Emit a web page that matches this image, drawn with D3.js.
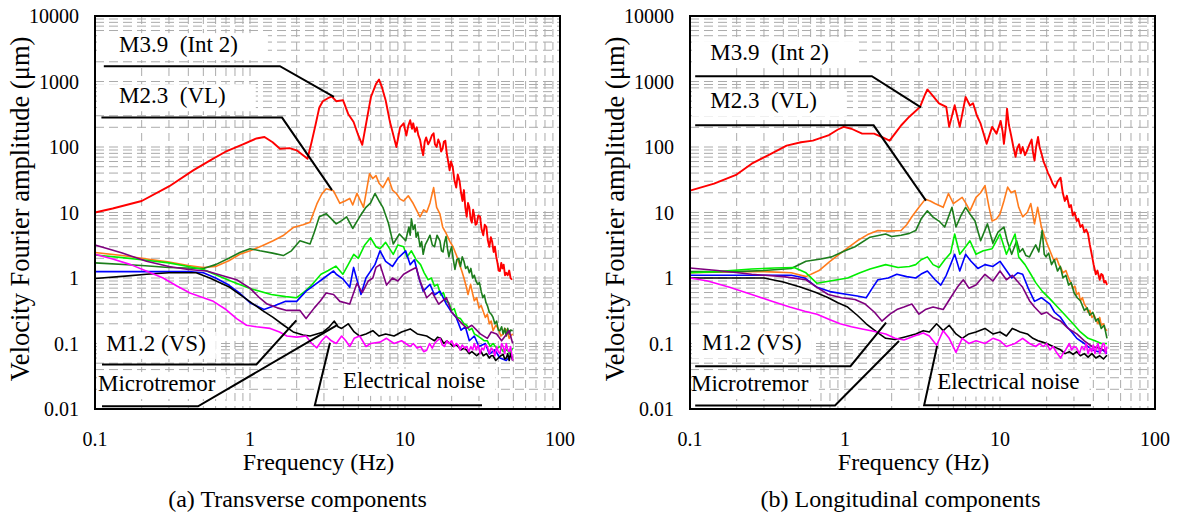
<!DOCTYPE html>
<html>
<head>
<meta charset="utf-8">
<script src="https://cdn.jsdelivr.net/npm/d3@7"></script>
<style>
  body { margin: 0; background: #fff; }
</style>
</head>
<body>
<svg id="chart" width="1179" height="517" font-family="'Liberation Serif', 'DejaVu Serif', serif"></svg>
<script>
// tick labels
const xTicks = [0.1, 1, 10, 100]
const yTicks = [0.01, 0.1, 1, 10, 100, 1000, 10000]

// series colours, in drawing order
const seriesNames = ["red", "orange", "darkgreen", "lime", "blue", "purple", "black", "magenta"]
const seriesColors = ["#ff0000", "#ff7b1c", "#1c7d1c", "#00ee00", "#0000ff", "#7f007f", "#000000", "#ff00ff"]

// (a) Transverse components : [frequency Hz, amplitude um]
const transRed = [[0.1,10],[0.13,11.5],[0.2,15],[0.3,25],[0.43,44],[0.55,62],[0.69,84],[0.9,110],[1.1,135],[1.24,142],[1.4,118],[1.56,94],[1.8,96],[2.0,89],[2.2,75],[2.35,66],[2.5,120],[2.65,220],[2.8,400],[2.95,500],[3.2,560],[3.37,590],[3.6,500],[3.98,520],[4.3,320],[4.66,241],[5.0,150],[5.3,108],[5.7,280],[6.03,580],[6.5,920],[6.8,1070],[7.1,820],[7.5,518],[8.0,240],[8.8,100],[9.3,200],[9.8,230],[10.2,150],[10.5,210],[10.8,256],[11.1,190],[11.3,230],[11.6,170],[11.9,200],[12.2,150],[12.5,130],[12.8,95],[13.1,75],[13.4,120],[13.7,140],[14.1,110],[14.5,125],[14.9,150],[15.3,162],[15.6,110],[16.0,100],[16.4,130],[16.8,112],[17.1,85],[17.5,95],[17.8,120],[18.2,125],[18.6,80],[19.0,60],[19.4,44],[19.8,60],[20.3,50],[20.8,32],[21.4,24],[21.9,38],[22.5,30],[23.0,20],[23.5,15],[24.0,22],[24.5,12],[25,8.6],[25.5,14],[26,12],[26.5,8],[27,7],[27.5,11],[28,9],[28.5,6.5],[29,6.7],[29.7,9],[30.5,8.6],[31.2,5.5],[32,4.5],[32.7,6.5],[33.5,6],[34.2,3.8],[35,3.0],[35.8,4.2],[36.5,3.6],[37.3,2.5],[38,3],[38.8,2.1],[39.5,1.7],[40.2,1.3],[41,1.28],[41.8,1.7],[42.5,1.4],[43.3,1.6],[44.2,1.1],[45,1.2],[46,1.1],[47,1.3],[48,1.0],[49,0.94]]
const transOrange = [[0.1,2.45],[0.15,2.2],[0.2,2.0],[0.3,1.75],[0.4,1.55],[0.5,1.45],[0.6,1.5],[0.73,1.83],[0.86,2.3],[1.0,2.6],[1.2,3.1],[1.41,3.7],[1.65,4.5],[1.9,5.9],[2.2,6.5],[2.44,7.1],[2.7,13.5],[2.9,19],[3.1,23],[3.45,21.5],[3.8,13.8],[4.1,15],[4.4,16.4],[4.6,13],[4.9,19.6],[5.4,12],[5.9,39],[6.2,33],[6.5,36.6],[6.8,28],[7.2,24],[7.8,34],[8.3,22],[8.8,19.5],[9.3,16],[9.8,15],[10.5,18],[11.3,13.7],[12.5,8.6],[13.2,11],[13.8,10.1],[14.5,14],[15.3,24],[16,12],[16.8,9.5],[17.5,6],[18.5,4.7],[19.5,3.6],[20.4,3.0],[21.5,2.2],[22.5,1.6],[23.2,1.3],[24,1.0],[24.8,0.75],[25.5,0.56],[26.5,0.8],[27.2,0.6],[28,0.45],[29,0.5],[30,0.35],[31,0.38],[33,0.25],[34,0.28],[35,0.2],[36,0.22],[37,0.157],[38.5,0.19],[40,0.17],[41.5,0.13],[43,0.14],[44,0.17],[45.5,0.157],[47,0.12],[48,0.13],[49.5,0.14]]
const transDarkGreen = [[0.1,1.7],[0.2,1.55],[0.3,1.45],[0.5,1.4],[0.6,1.6],[0.73,2.0],[0.86,2.45],[1.0,2.8],[1.16,2.6],[1.4,2.4],[1.64,2.2],[1.85,2.6],[2.1,3.7],[2.44,3.3],[2.6,5],[2.8,8.6],[3.1,9.6],[3.35,8],[3.6,6.7],[3.9,7.5],[4.2,8.6],[4.6,5.7],[5.1,8.6],[5.6,12],[6.0,14],[6.4,19.5],[6.8,15],[7.2,12],[7.8,7],[8.4,3.3],[9.2,4.7],[10.1,3.7],[10.4,5],[10.6,6],[10.8,4.5],[11,8.0],[11.3,5.5],[11.6,6.5],[11.8,4.2],[12.1,5],[12.5,3],[12.8,3.6],[13.1,2.3],[13.5,3.2],[14,3.8],[14.5,4.5],[15,3.2],[15.5,3],[16.1,4.5],[16.8,3.7],[17.2,2.6],[17.6,2.5],[18,3.5],[18.4,4.3],[18.8,2.8],[19.2,2.1],[19.6,2.6],[20,3.0],[20.5,1.9],[21,1.35],[21.6,1.9],[22.2,2.0],[22.8,1.5],[23.4,2.1],[24,1.8],[24.6,1.4],[25.3,1.5],[26,1.2],[26.6,1.4],[27.3,1.0],[28,1.1],[28.7,0.9],[29.5,0.8],[30.2,0.85],[31,0.63],[31.8,0.5],[32.5,0.55],[33.3,0.42],[34,0.38],[35,0.3],[36,0.28],[37,0.25],[38,0.2],[39,0.22],[40,0.16],[41,0.157],[42,0.18],[43,0.14],[44,0.17],[45,0.13],[46,0.17],[47,0.14],[48,0.16],[49.5,0.157]]
const transLime = [[0.1,2.25],[0.15,2.05],[0.2,1.9],[0.3,1.7],[0.4,1.5],[0.5,1.35],[0.59,1.14],[0.75,0.9],[1.0,0.69],[1.37,0.56],[1.7,0.52],[2.0,0.5],[2.25,0.62],[2.5,0.78],[2.87,1.14],[3.2,1.3],[3.58,1.52],[3.97,1.14],[4.3,1.6],[4.67,2.3],[5.0,2.0],[5.5,3.2],[6.0,4.1],[6.5,3.0],[6.9,2.8],[7.5,3.5],[8.4,2.3],[9.0,3.2],[9.8,3.0],[10.3,2.1],[11.0,2.6],[11.8,1.9],[12.6,1.6],[13.3,1.2],[14.1,0.94],[14.8,1.0],[15.5,0.75],[16.2,0.8],[17,0.55],[17.7,0.6],[18.4,0.44],[19.2,0.42],[20,0.32],[20.8,0.34],[21.7,0.25],[22.8,0.24],[24,0.2],[25,0.19],[26,0.16],[27,0.17],[28,0.14],[29.5,0.13],[31,0.12],[32.5,0.11],[34,0.11],[35.5,0.09],[37,0.1],[39,0.085],[41,0.09],[43,0.075],[45.6,0.08],[47.5,0.07],[49.5,0.085]]
const transBlue = [[0.1,1.25],[0.2,1.25],[0.3,1.25],[0.4,1.25],[0.5,1.2],[0.6,1.0],[0.73,0.78],[0.85,0.6],[1.0,0.42],[1.23,0.33],[1.45,0.38],[1.7,0.44],[2.0,0.44],[2.3,0.63],[2.6,0.78],[3.0,1.0],[3.46,1.28],[3.6,1.14],[3.97,0.97],[4.4,0.72],[4.66,1.45],[5.2,0.56],[5.6,1.0],[6.4,1.6],[6.9,2.6],[7.5,1.8],[8.3,1.5],[9.0,2.0],[10.1,2.6],[10.8,1.6],[11.5,1.9],[12.3,1.0],[13.1,0.63],[14.5,0.8],[15.5,0.55],[16.8,0.63],[18.5,0.4],[20,0.3],[21.4,0.25],[23,0.16],[24.5,0.18],[26,0.11],[28,0.13],[30,0.09],[33,0.1],[35,0.069],[38,0.08],[41,0.06],[45,0.055],[48,0.065],[49.5,0.06]]
const transPurple = [[0.1,3.2],[0.15,2.4],[0.215,1.8],[0.3,1.5],[0.4,1.35],[0.525,1.28],[0.65,1.1],[0.82,0.94],[1.0,0.7],[1.15,0.5],[1.29,0.4],[1.5,0.35],[1.73,0.32],[2.1,0.32],[2.3,0.24],[2.6,0.35],[2.85,0.45],[3.1,0.59],[3.46,0.56],[3.8,0.44],[4.4,0.4],[4.9,0.83],[5.3,0.6],[5.8,0.9],[6.2,1.0],[6.5,1.45],[6.9,1.6],[7.6,0.78],[8.3,1.0],[9.0,0.9],[9.8,1.14],[10.8,1.3],[11.8,1.45],[12.5,0.9],[13.8,0.5],[15,0.6],[16.5,0.4],[18.5,0.5],[20,0.3],[22.5,0.22],[25,0.17],[27,0.19],[30.6,0.14],[34,0.12],[36,0.15],[39,0.14],[42,0.11],[47,0.157],[49.5,0.1]]
const transBlack = [[0.1,0.98],[0.15,1.06],[0.215,1.14],[0.3,1.2],[0.45,1.2],[0.55,1.0],[0.74,0.72],[0.9,0.52],[1.05,0.4],[1.2,0.32],[1.41,0.25],[1.65,0.19],[1.9,0.15],[2.2,0.135],[2.44,0.13],[2.7,0.14],[2.97,0.15],[3.25,0.18],[3.5,0.22],[3.7,0.18],[3.9,0.17],[4.3,0.2],[4.7,0.15],[5.1,0.13],[5.6,0.14],[6.2,0.157],[6.8,0.13],[7.5,0.14],[8.5,0.13],[9.5,0.15],[10.8,0.167],[12,0.14],[13.8,0.13],[14.6,0.12],[15.5,0.11],[16.2,0.125],[17,0.12],[17.8,0.1],[18.6,0.11],[19.5,0.1],[20.5,0.09],[21.3,0.095],[22,0.09],[23,0.08],[24,0.085],[25,0.079],[26,0.07],[27,0.075],[28,0.07],[29,0.065],[30,0.07],[31,0.075],[32,0.065],[33.5,0.07],[35,0.06],[36,0.065],[37,0.065],[38.5,0.055],[40,0.06],[41.5,0.065],[43,0.068],[44,0.058],[45,0.06],[46,0.07],[47,0.055],[48,0.07],[49.5,0.055]]
const transMagenta = [[0.1,2.3],[0.13,1.95],[0.17,1.6],[0.22,1.25],[0.275,1.0],[0.34,0.75],[0.41,0.59],[0.5,0.5],[0.58,0.44],[0.7,0.33],[0.82,0.24],[0.95,0.19],[1.1,0.18],[1.35,0.17],[1.55,0.15],[1.73,0.13],[2.0,0.125],[2.3,0.13],[2.5,0.1],[2.7,0.086],[2.9,0.11],[3.1,0.13],[3.35,0.11],[3.6,0.1],[3.9,0.13],[4.15,0.11],[4.4,0.09],[4.7,0.12],[5.1,0.13],[5.6,0.09],[6.0,0.1],[6.9,0.105],[7.6,0.12],[8.5,0.1],[9.5,0.11],[10.8,0.09],[11.3,0.1],[12,0.085],[12.6,0.09],[13.2,0.075],[13.8,0.079],[14.4,0.1],[15,0.085],[15.5,0.1],[16.1,0.11],[16.8,0.12],[17.4,0.095],[18,0.09],[18.6,0.11],[19.3,0.1],[20,0.11],[20.7,0.09],[21.4,0.1],[22,0.095],[22.7,0.08],[23.4,0.095],[24.2,0.085],[25,0.09],[25.8,0.075],[26.6,0.09],[27.3,0.08],[28,0.1],[28.8,0.08],[29.7,0.095],[30.5,0.07],[31.3,0.085],[32.2,0.08],[33,0.095],[34,0.09],[35,0.07],[36,0.085],[37,0.08],[38,0.065],[39,0.09],[40,0.075],[41,0.07],[42,0.1],[43,0.09],[44,0.07],[45,0.1],[46,0.08],[47,0.075],[48,0.09],[49.5,0.055]]

// (b) Longitudinal components
const longRed = [[0.1,21.6],[0.143,27.6],[0.2,38],[0.25,55.7],[0.33,78],[0.42,105],[0.52,118],[0.62,125],[0.78,150],[0.9,185],[0.98,203],[1.1,190],[1.29,160],[1.54,160],[1.75,140],[1.94,125],[2.1,160],[2.3,213],[2.6,290],[2.8,340],[3.05,410],[3.25,600],[3.4,755],[3.7,600],[4.04,465],[4.5,410],[4.7,203],[5.1,435],[5.5,203],[6.0,580],[6.4,430],[6.7,465],[7.1,300],[7.5,227],[8.2,112],[8.9,203],[9.5,160],[10.1,250],[10.4,170],[10.6,112],[10.9,200],[11.1,385],[11.4,220],[11.8,150],[12.2,100],[12.6,71],[12.9,95],[13.3,110],[13.6,80],[14,100],[14.5,75],[15,90],[15.5,110],[16.0,130],[16.3,85],[16.7,62],[17.1,100],[17.6,142],[18,100],[18.5,80],[19.1,60],[19.8,49],[20.4,40],[21,35],[21.8,28],[22.7,24],[23.6,30],[24.6,34],[25.4,20],[26.2,15],[27,18],[28,12],[28.7,13],[29.5,9],[30.3,10],[31.3,7.4],[32,8],[33,6],[34,6.5],[35,5],[36,5.5],[37,4.7],[38,3.2],[39.2,2.2],[40.2,1.6],[41.5,1.14],[42.5,1.3],[44,0.94],[45,1.15],[46,1.1],[47,0.85],[48,0.9],[49,0.78]]
const longOrange = [[0.1,1.2],[0.2,1.25],[0.3,1.25],[0.45,1.2],[0.56,1.05],[0.68,1.3],[0.8,1.8],[0.98,2.6],[1.2,3.7],[1.4,4.6],[1.63,5.3],[1.9,5.2],[2.3,5.3],[2.5,6.5],[2.7,8.6],[3.0,12],[3.3,16],[3.55,15],[3.8,13.7],[4.3,12],[4.65,19.5],[5.0,13.7],[5.7,17],[6.0,14],[6.4,10.6],[7.0,17],[7.5,20],[8.0,25.8],[8.5,12],[8.9,7.4],[9.5,8],[10,9.5],[10.6,15],[11.2,24.4],[11.8,20],[12.5,21.6],[13.2,12],[14,8.6],[15,10],[15.8,13.7],[16.7,6.7],[17.5,12],[18.5,6],[19.8,3.7],[21,2.6],[22.3,1.83],[23.2,2.0],[24,1.6],[24.8,1.4],[25.5,1.2],[26.6,1.3],[27.7,1.0],[28.6,0.85],[29.5,0.7],[30.4,0.75],[31.3,0.56],[32.2,0.6],[33,0.45],[34,0.5],[35,0.4],[36,0.36],[37,0.3],[38,0.32],[39.2,0.25],[40.5,0.27],[42,0.22],[43,0.2],[44,0.25],[45,0.19],[46.5,0.2],[47.5,0.17],[49,0.157]]
const longDarkGreen = [[0.1,1.25],[0.2,1.25],[0.3,1.3],[0.45,1.4],[0.56,1.8],[0.7,1.95],[0.82,2.1],[1.0,2.6],[1.16,3.0],[1.45,4.2],[1.83,4.7],[2.0,4.3],[2.3,4.5],[2.6,4.8],[2.86,5.3],[3.1,8],[3.4,10.6],[3.7,8.5],[4.04,7.4],[4.4,6.0],[4.9,12],[5.2,6],[5.6,9],[6.0,12],[6.4,9.5],[6.9,7.4],[7.5,3.7],[8.3,6.7],[9.0,3.4],[9.7,5],[10.6,6],[11.2,3.5],[11.9,2.3],[12.4,3],[12.8,3.7],[13.4,2.5],[14,2.8],[14.7,2.2],[15.5,2.1],[16.2,2.6],[17,3.2],[17.8,2.5],[18.7,5.3],[19.3,2.3],[19.8,2.1],[20.6,2.4],[21.5,1.6],[22.4,1.9],[23.5,1.28],[24.5,1.5],[25.5,1.0],[26.6,1.1],[27.7,0.78],[28.8,0.85],[30,0.6],[31.5,0.5],[33,0.45],[35,0.32],[36.5,0.35],[38,0.27],[39.7,0.3],[41.5,0.22],[43,0.24],[45,0.17],[47,0.19],[49,0.12]]
const longLime = [[0.1,1.2],[0.15,1.25],[0.25,1.37],[0.35,1.42],[0.47,1.45],[0.56,1.2],[0.66,0.83],[0.8,0.9],[1.04,1.0],[1.25,1.2],[1.45,1.37],[1.83,1.6],[2.2,1.45],[2.6,1.5],[2.86,1.6],[3.1,1.9],[3.4,2.1],[3.7,1.6],[4.04,1.45],[4.4,1.9],[4.8,2.4],[5.1,4.7],[5.5,2.3],[6.0,3.0],[6.4,3.7],[7.0,2.3],[7.8,2.6],[8.9,2.8],[10,4.7],[11,2.3],[12.5,4.7],[13.2,2.1],[14.5,1.6],[15.8,1.14],[17,0.85],[18.7,0.63],[21,0.48],[23.5,0.36],[26,0.28],[29.6,0.2],[33,0.15],[37,0.12],[41,0.11],[45,0.1],[49,0.1]]
const longBlue = [[0.1,1.1],[0.2,1.1],[0.3,1.1],[0.45,1.1],[0.55,1.0],[0.66,0.72],[0.8,0.62],[1.04,0.56],[1.2,0.53],[1.37,0.5],[1.5,0.7],[1.63,0.94],[1.9,1.0],[2.16,1.14],[2.5,1.05],[2.86,1.0],[3.1,1.15],[3.4,1.28],[3.8,0.95],[4.15,0.78],[4.5,1.1],[4.8,1.6],[5.1,2.3],[5.5,1.28],[6.0,2.3],[6.5,1.8],[7.2,1.4],[8.0,1.6],[9.0,1.5],[10,1.8],[11,1.3],[11.9,1.0],[13,1.2],[14,1.14],[15.2,0.7],[16.7,0.44],[18.5,0.5],[21,0.4],[22.5,0.3],[24.6,0.25],[27,0.18],[29,0.15],[31.3,0.12],[35,0.1],[39.2,0.08],[43,0.075],[46,0.08],[49,0.07]]
const longPurple = [[0.1,1.42],[0.15,1.3],[0.25,1.14],[0.4,1.05],[0.56,0.94],[0.66,0.72],[0.78,0.56],[0.95,0.5],[1.16,0.47],[1.35,0.4],[1.55,0.3],[1.73,0.22],[1.95,0.28],[2.16,0.33],[2.4,0.36],[2.7,0.4],[3.0,0.28],[3.3,0.33],[3.7,0.36],[4.3,0.33],[4.8,0.5],[5.3,0.72],[5.8,0.94],[6.3,0.7],[7.0,0.78],[8.0,1.14],[9.0,0.9],[10,1.28],[11,0.94],[12,1.1],[14,0.72],[15.5,0.45],[16.7,0.36],[18.5,0.28],[20,0.3],[22,0.25],[24.6,0.22],[27.5,0.17],[31.3,0.14],[35,0.11],[39.2,0.09],[44,0.085],[49,0.075]]
const longBlack = [[0.1,1.0],[0.2,1.0],[0.3,1.0],[0.4,0.87],[0.52,0.72],[0.65,0.6],[0.78,0.5],[0.9,0.42],[1.04,0.36],[1.2,0.27],[1.37,0.2],[1.6,0.15],[1.83,0.12],[2.1,0.115],[2.4,0.125],[2.86,0.14],[3.2,0.157],[3.5,0.15],[3.9,0.2],[4.3,0.157],[4.7,0.19],[5.2,0.14],[5.7,0.12],[6.3,0.14],[7.0,0.15],[8.0,0.17],[9.0,0.14],[10,0.15],[11,0.13],[12,0.17],[13.5,0.15],[15,0.14],[16.3,0.12],[17.6,0.11],[18.8,0.105],[20,0.1],[21,0.095],[22,0.09],[23.3,0.085],[24.6,0.08],[26.3,0.07],[28,0.075],[29.6,0.068],[31.3,0.075],[33,0.065],[35,0.07],[37,0.062],[39.2,0.07],[41.5,0.06],[44,0.065],[46.5,0.058],[49,0.066]]
const longMagenta = [[0.1,1.0],[0.13,0.9],[0.18,0.72],[0.25,0.56],[0.33,0.45],[0.44,0.36],[0.55,0.31],[0.66,0.28],[0.8,0.23],[0.93,0.2],[1.1,0.18],[1.29,0.167],[1.5,0.155],[1.83,0.14],[2.1,0.12],[2.4,0.113],[2.8,0.13],[3.2,0.145],[3.5,0.13],[3.9,0.094],[4.3,0.157],[4.7,0.12],[5.2,0.073],[5.7,0.12],[6.3,0.1],[7.0,0.11],[8.0,0.1],[9.0,0.12],[10,0.11],[11,0.09],[12.5,0.1],[14,0.12],[15.5,0.1],[17,0.09],[18,0.1],[19,0.09],[20,0.1],[21,0.08],[22,0.09],[23,0.075],[24.6,0.06],[25.5,0.07],[26.5,0.08],[27.3,0.09],[28,0.1],[29,0.08],[30,0.09],[31.3,0.085],[32.5,0.07],[33.7,0.09],[35,0.08],[36,0.1],[37,0.07],[38,0.085],[39,0.075],[40,0.095],[41,0.07],[42,0.09],[43,0.1],[44,0.07],[45,0.08],[46,0.1],[47,0.1],[48,0.07],[49,0.09]]

// annotation labels: [text, frequency, amplitude] of the text baseline start
const transLabels = [["M3.9\u00a0\u00a0(Int 2)", 0.143, 2810], ["M2.3\u00a0\u00a0(VL)", 0.143, 466], ["M1.2 (VS)", 0.118, 0.077], ["Microtremor", 0.1046, 0.0188], ["Electrical noise", 3.98, 0.021]]
const longLabels = [["M3.9\u00a0\u00a0(Int 2)", 0.135, 2120], ["M2.3\u00a0\u00a0(VL)", 0.135, 390], ["M1.2 (VS)", 0.1195, 0.0785], ["Microtremor", 0.1015, 0.0188], ["Electrical noise", 3.93, 0.0205]]

// leader lines from labels to curves
const transLeaders = [[[0.114,1715],[1.56,1715],[3.48,581]], [[0.11,281],[1.61,281],[3.38,22]], [[0.111,0.048],[1.1,0.048],[1.99,0.226]], [[0.111,0.011],[0.462,0.011],[3.67,0.192]], [[31.4,0.0114],[2.62,0.0114],[3.28,0.103]]]
const longLeaders = [[[0.108,1205],[1.49,1205],[3.09,404]], [[0.108,214],[1.53,214],[3.33,15.2]], [[0.108,0.045],[1.085,0.045],[1.84,0.208]], [[0.108,0.0113],[0.862,0.0113],[2.23,0.109]], [[38.6,0.0114],[3.24,0.0114],[3.93,0.092]]]

const panels = [
    { left: 95, right: 560, captionShift: -30, caption: "(a) Transverse components",
      series: [transRed, transOrange, transDarkGreen, transLime, transBlue, transPurple, transBlack, transMagenta],
      labels: transLabels, leaders: transLeaders },
    { left: 690, right: 1155, captionShift: -22, caption: "(b) Longitudinal components",
      series: [longRed, longOrange, longDarkGreen, longLime, longBlue, longPurple, longBlack, longMagenta],
      labels: longLabels, leaders: longLeaders }
]

const plotTop = 16, plotBottom = 409
const svg = d3.select("#chart")

// every 1..9 step of each decade, for the grid
function logSteps(lo, hi) {
    let out = []
    for (let d = lo; d < hi * 0.999; d *= 10)
        for (let k = 1; k < 10; k++) out.push(d * k)
    out.push(hi)
    return out
}

panels.forEach(p => {
    let x = d3.scaleLog().domain([0.1, 100]).range([p.left, p.right])
    let y = d3.scaleLog().domain([0.01, 10000]).range([plotBottom, plotTop])
    let g = svg.append("g")

    // dashed grid
    g.append("g").selectAll("line").data(logSteps(0.1, 100)).join("line")
        .attr("x1", d => x(d)).attr("x2", d => x(d))
        .attr("y1", plotTop).attr("y2", plotBottom)
        .attr("stroke", "#ababab").attr("stroke-width", 1)
        .attr("stroke-dasharray", "8,5")
    g.append("g").selectAll("line").data(logSteps(0.01, 10000)).join("line")
        .attr("x1", p.left).attr("x2", p.right)
        .attr("y1", d => y(d)).attr("y2", d => y(d))
        .attr("stroke", "#ababab").attr("stroke-width", 1)
        .attr("stroke-dasharray", "9,5")

    // white boxes behind the labels, then spectra and leaders
    let boxG = g.append("g")
    let line = d3.line().x(d => x(d[0])).y(d => y(d[1]))
    p.series.forEach((s, i) => {
        g.append("path")
            .datum(s)
            .attr("fill", "none")
            .attr("stroke", seriesColors[i])
            .attr("stroke-width", i == 0 ? 1.9 : 1.6)
            .attr("stroke-linejoin", "round")
            .attr("d", line)
    })
    p.leaders.forEach(l => {
        g.append("path")
            .datum(l)
            .attr("fill", "none")
            .attr("stroke", "#000")
            .attr("stroke-width", 2)
            .attr("d", line)
    })

    let texts = p.labels.map(l => g.append("text")
        .attr("x", x(l[1])).attr("y", y(l[2]))
        .attr("font-size", 23)
        .text(l[0]))
    texts.forEach((t, i) => {
        let b = t.node().getBBox()
        let x0 = i < 4 ? p.left + 2 : b.x - 5
        boxG.append("rect")
            .attr("x", x0).attr("y", b.y + 1)
            .attr("width", b.x + b.width + (i < 2 ? 30 : 10) - x0)
            .attr("height", b.height + 2)
            .attr("fill", "#fff")
    })

    // frame
    g.append("rect")
        .attr("x", p.left).attr("y", plotTop)
        .attr("width", p.right - p.left).attr("height", plotBottom - plotTop)
        .attr("fill", "none").attr("stroke", "#000").attr("stroke-width", 2)

    // tick labels
    svg.append("g").selectAll("text").data(yTicks).join("text")
        .attr("x", p.left - 16).attr("y", d => y(d)).attr("dy", "0.35em")
        .attr("text-anchor", "end").attr("font-size", 20)
        .text(d => String(d))
    svg.append("g").selectAll("text").data(xTicks).join("text")
        .attr("x", d => x(d)).attr("y", 446)
        .attr("text-anchor", "middle").attr("font-size", 20)
        .text(d => String(d))

    // axis titles and caption
    let mid = (p.left + p.right) / 2
    svg.append("text")
        .attr("x", mid - 9).attr("y", 470)
        .attr("text-anchor", "middle").attr("font-size", 24)
        .text("Frequency (Hz)")
    svg.append("text")
        .attr("transform", `translate(${p.left - 66}, 209) rotate(-90)`)
        .attr("text-anchor", "middle").attr("font-size", 26.5)
        .text("Velocity Fourier amplitude (\u03bcm)")
    svg.append("text")
        .attr("x", mid + p.captionShift).attr("y", 507)
        .attr("text-anchor", "middle").attr("font-size", 24)
        .text(p.caption)
})
</script>
</body>
</html>
